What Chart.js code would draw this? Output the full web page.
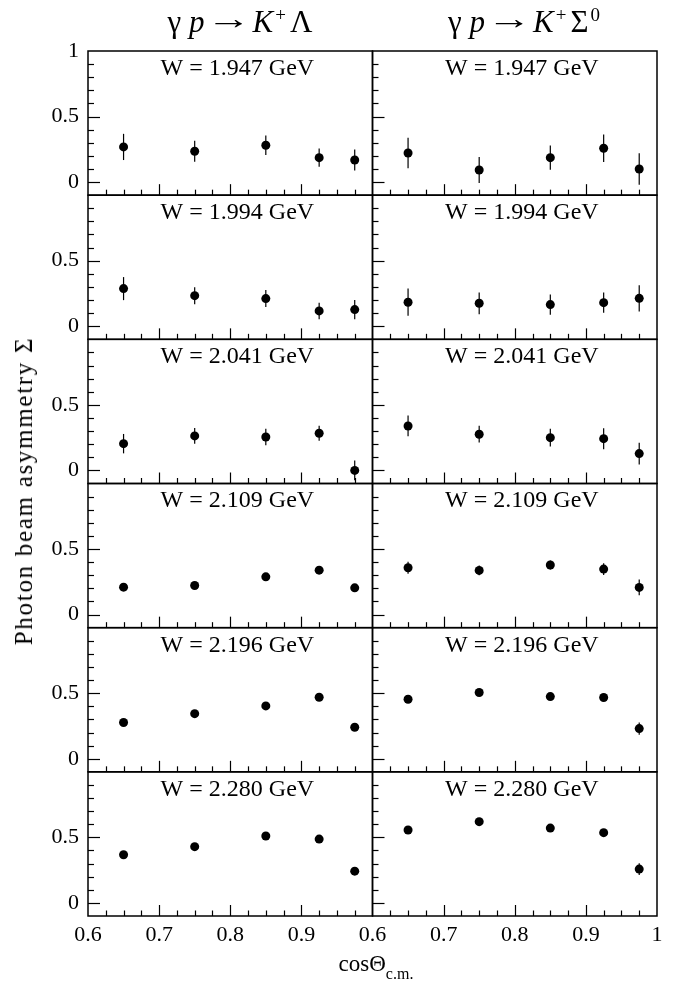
<!DOCTYPE html>
<html>
<head>
<meta charset="utf-8">
<script src="https://cdn.jsdelivr.net/npm/chart.js@4.4.0/dist/chart.umd.min.js"></script>
<style>
  html, body { margin: 0; padding: 0; background: #fff; }
  #lienzo { position: relative; width: 679px; height: 985px; font-family: 'Liberation Serif', 'DejaVu Serif', serif; color: #000; }
  #grafico { position: absolute; left: 0; top: 0; }
  .reaccion { position: absolute; top: 4px; font-size: 31px; line-height: 36px; white-space: nowrap; transform: translateX(-50%); }
  .reaccion i { font-style: italic; }
  .reaccion .flecha { display: inline-block; position: relative; top: -3px; margin: 0 8px 0 9px; transform: scaleX(1.45); }
  .reaccion sup { font-size: 19px; vertical-align: 11px; line-height: 0; margin: 0 4px 0 2px; }
  #titulo-y { position: absolute; left: 24px; top: 491px; font-size: 25px; letter-spacing: 1.7px; white-space: nowrap; transform: translate(-50%, -50%) rotate(-90deg); }
  #titulo-x { position: absolute; left: 376px; top: 951px; font-size: 23px; white-space: nowrap; transform: translateX(-50%); }
  #titulo-x sub { font-size: 16px; vertical-align: -8px; line-height: 0; }
</style>
</head>
<body>
<div id="lienzo">
  <canvas id="grafico" width="679" height="985"></canvas>
  <div class="reaccion" style="left: 240px">γ <i>p</i><span class="flecha">→</span><i>K</i><sup>+</sup>Λ</div>
  <div class="reaccion" style="left: 526px">γ <i>p</i><span class="flecha">→</span><i>K</i><sup>+</sup>Σ<sup>0</sup></div>
  <div id="titulo-y">Photon beam asymmetry Σ</div>
  <div id="titulo-x">cosΘ<sub>c.m.</sub></div>
</div>
<script>
// Ángulos (cosΘ c.m.) y energías W de cada fila
const cosTheta = [0.65, 0.75, 0.85, 0.925, 0.975];
const energias = ['1.947', '1.994', '2.041', '2.109', '2.196', '2.280'];

// Asimetría Σ para K+ Λ, una fila por energía
const sigmaLambda = [
    [0.268, 0.235, 0.281, 0.186, 0.168],
    [0.287, 0.233, 0.211, 0.117, 0.127],
    [0.204, 0.263, 0.255, 0.283, 0.000],
    [0.209, 0.222, 0.288, 0.339, 0.204],
    [0.276, 0.344, 0.403, 0.469, 0.240],
    [0.367, 0.429, 0.510, 0.487, 0.242]
];
const errLambda = [
    [0.100, 0.080, 0.075, 0.070, 0.080],
    [0.088, 0.065, 0.065, 0.063, 0.074],
    [0.074, 0.060, 0.063, 0.057, 0.075],
    [0.025, 0.015, 0.015, 0.020, 0.025],
    [0.015, 0.015, 0.015, 0.015, 0.020],
    [0.020, 0.020, 0.020, 0.020, 0.020]
];

// Asimetría Σ para K+ Σ0
const sigmaSigma0 = [
    [0.222, 0.092, 0.186, 0.258, 0.100],
    [0.183, 0.175, 0.165, 0.180, 0.213],
    [0.339, 0.276, 0.250, 0.242, 0.128],
    [0.357, 0.337, 0.378, 0.347, 0.207],
    [0.454, 0.505, 0.474, 0.467, 0.230],
    [0.556, 0.620, 0.571, 0.536, 0.258]
];
const errSigma0 = [
    [0.117, 0.100, 0.093, 0.105, 0.120],
    [0.104, 0.083, 0.078, 0.078, 0.100],
    [0.079, 0.064, 0.068, 0.080, 0.083],
    [0.045, 0.038, 0.035, 0.045, 0.060],
    [0.020, 0.020, 0.020, 0.020, 0.047],
    [0.020, 0.020, 0.020, 0.020, 0.045]
];

// Marcas de los ejes
const ticksY = [0, 0.5, 1];
const ticksXIzq = [0.6, 0.7, 0.8, 0.9];
const ticksXDer = [0.6, 0.7, 0.8, 0.9, 1.0];

const fuenteEjes = { family: "'Liberation Serif', serif", size: 22 };
const formato = v => (v === 0 ? '0' : v === 1 ? '1' : String(v));

// Una escala Y por fila, apiladas (la pila se llena desde abajo, por eso se recorre al revés)
const escalas = {};
for (let i = energias.length - 1; i >= 0; i--) {
    escalas['y' + i] = {
        type: 'linear', position: 'left', stack: 'filas', stackWeight: 1,
        min: -0.1, max: 1.0,
        grid: { display: false, drawTicks: false }, border: { display: false },
        afterBuildTicks: s => { s.ticks = ticksY.map(v => ({ value: v })); },
        afterFit: s => { s.width = 70; },
        ticks: {
            font: fuenteEjes, color: '#000', padding: 9,
            callback: v => (v === 1 && i > 0) ? '' : formato(v)
        }
    };
}
// Dos escalas X lado a lado
[['xIzq', ticksXIzq], ['xDer', ticksXDer]].forEach(([id, marcas]) => {
    escalas[id] = {
        type: 'linear', position: 'bottom', stack: 'columnas', stackWeight: 1,
        min: 0.6, max: 1.0,
        grid: { display: false, drawTicks: false }, border: { display: false },
        afterBuildTicks: s => { s.ticks = marcas.map(v => ({ value: v })); },
        afterFit: s => { s.height = 40; },
        ticks: { font: fuenteEjes, color: '#000', padding: 6, maxRotation: 0, autoSkip: false, callback: formato }
    };
});

// Datasets: una serie por panel
const series = [];
energias.forEach((w, i) => {
    [[sigmaLambda, errLambda, 'xIzq'], [sigmaSigma0, errSigma0, 'xDer']].forEach(([vals, errs, eje]) => {
        series.push({
            label: 'W = ' + w + ' GeV',
            xAxisID: eje,
            yAxisID: 'y' + i,
            data: cosTheta.map((c, k) => ({ x: c, y: vals[i][k], err: errs[i][k] })),
            pointRadius: 4.5,
            pointHoverRadius: 4.5,
            pointBackgroundColor: '#000',
            pointBorderWidth: 0,
            showLine: false
        });
    });
});

// Barras de error, marcos de cada panel, marcas internas y rótulos de energía
const pluginPaneles = {
    id: 'paneles',
    beforeDatasetsDraw(chart) {
        const ctx = chart.ctx;
        ctx.save();
        ctx.strokeStyle = '#000';
        ctx.lineWidth = 1.2;
        chart.data.datasets.forEach(ds => {
            const sx = chart.scales[ds.xAxisID], sy = chart.scales[ds.yAxisID];
            ds.data.forEach(p => {
                const x = sx.getPixelForValue(p.x);
                ctx.beginPath();
                ctx.moveTo(x, sy.getPixelForValue(p.y - p.err));
                ctx.lineTo(x, sy.getPixelForValue(p.y + p.err));
                ctx.stroke();
            });
        });
        ctx.restore();
    },
    afterDraw(chart) {
        const ctx = chart.ctx;
        ctx.save();
        ctx.strokeStyle = '#000';
        energias.forEach((w, i) => {
            const sy = chart.scales['y' + i];
            ['xIzq', 'xDer'].forEach(id => {
                const sx = chart.scales[id];
                // marco
                ctx.lineWidth = 1.5;
                ctx.strokeRect(sx.left, sy.top, sx.right - sx.left, sy.bottom - sy.top);
                // marcas en Y hacia dentro
                ctx.lineWidth = 1.2;
                for (let k = 0; k < 10; k++) {
                    const v = k / 10;
                    const largo = (k % 5 === 0) ? 12 : 6;
                    const y = Math.round(sy.getPixelForValue(v)) + 0.5;
                    ctx.beginPath();
                    ctx.moveTo(sx.left, y);
                    ctx.lineTo(sx.left + largo, y);
                    ctx.stroke();
                }
                // marcas en X hacia arriba
                for (let k = 1; k < 16; k++) {
                    const v = 0.6 + k * 0.025;
                    const largo = (k % 4 === 0) ? 11 : 5.5;
                    const x = Math.round(sx.getPixelForValue(v)) + 0.5;
                    ctx.beginPath();
                    ctx.moveTo(x, sy.bottom);
                    ctx.lineTo(x, sy.bottom - largo);
                    ctx.stroke();
                }
                // rótulo de energía
                ctx.fillStyle = '#000';
                ctx.font = "24px 'Liberation Serif', serif";
                ctx.textAlign = 'center';
                ctx.textBaseline = 'middle';
                ctx.fillText('W = ' + w + ' GeV', sx.getPixelForValue(0.81), sy.getPixelForValue(0.865));
            });
        });
        ctx.restore();
    }
};

new Chart(document.getElementById('grafico').getContext('2d'), {
    type: 'scatter',
    data: { datasets: series },
    options: {
        responsive: false,
        animation: false,
        layout: { padding: { left: 18, right: 22, top: 51, bottom: 29 } },
        plugins: { legend: { display: false }, tooltip: { enabled: false } },
        scales: escalas
    },
    plugins: [pluginPaneles]
});
</script>
</body>
</html>
